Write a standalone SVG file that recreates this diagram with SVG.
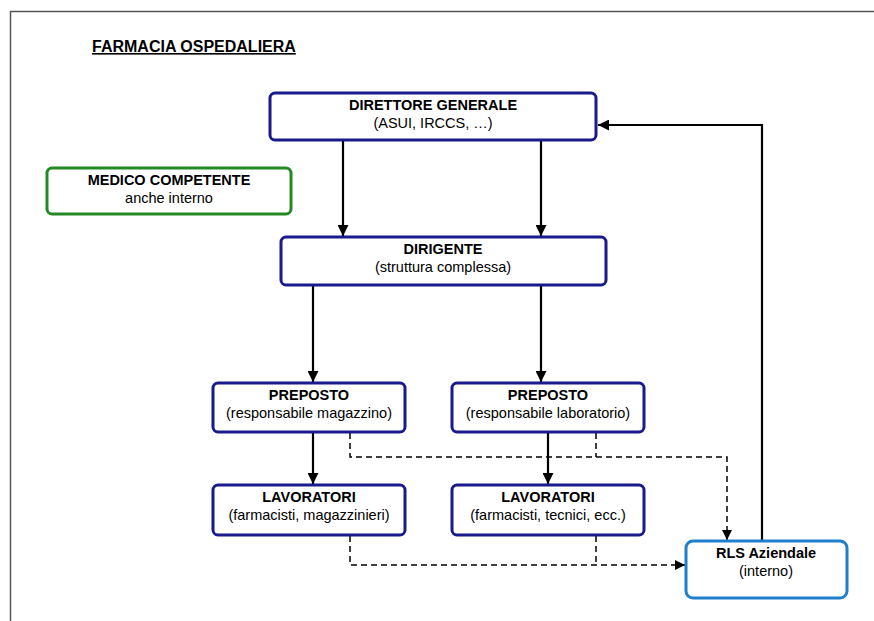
<svg xmlns="http://www.w3.org/2000/svg" width="874" height="621" viewBox="0 0 874 621">
<defs>
<style>
.t{font-family:"Liberation Sans",Arial,sans-serif;font-size:14.5px;fill:#000;text-anchor:middle}
.b{font-weight:bold}
.n{fill:#fff;stroke:#1a1a8c;stroke-width:3}
.g{fill:#fff;stroke:#238a23;stroke-width:3}
.r{fill:#fff;stroke:#1f7fcc;stroke-width:3}
.s{fill:none;stroke:#000;stroke-width:2.2}
.d{fill:none;stroke:#000;stroke-width:1.5;stroke-dasharray:6,4}
</style>
<marker id="a" viewBox="0 0 10 10" refX="10" refY="5" markerWidth="5" markerHeight="5" orient="auto" markerUnits="strokeWidth"><path d="M0,0 L10,5 L0,10 z" fill="#000"/></marker>
<marker id="ad" viewBox="0 0 10 10" refX="10" refY="5" markerWidth="7" markerHeight="7" orient="auto" markerUnits="strokeWidth"><path d="M0,0 L10,5 L0,10 z" fill="#000"/></marker>
</defs>
<rect width="874" height="621" fill="#fff"/>
<path d="M10.5,621 V11.5 H874" fill="none" stroke="#555" stroke-width="1.5"/>
<text x="92" y="52" class="t b" style="text-anchor:start;font-size:16px;text-decoration:underline">FARMACIA OSPEDALIERA</text>
<g id="connectors">
<line class="s" x1="343" y1="141" x2="343" y2="236" marker-end="url(#a)"/>
<line class="s" x1="541" y1="141" x2="541" y2="236" marker-end="url(#a)"/>
<line class="s" x1="313" y1="286" x2="313" y2="382" marker-end="url(#a)"/>
<line class="s" x1="541" y1="286" x2="541" y2="382" marker-end="url(#a)"/>
<line class="s" x1="313" y1="433" x2="313" y2="484" marker-end="url(#a)"/>
<line class="s" x1="548" y1="433" x2="548" y2="484" marker-end="url(#a)"/>
<path class="d" d="M350,433 V457 H727 V540" marker-end="url(#ad)"/>
<path class="d" d="M596,433 V457"/>
<path class="d" d="M350,536 V565 H685" marker-end="url(#ad)"/>
<path class="d" d="M596,536 V565"/>
<path class="s" d="M762,540 V125 H598" marker-end="url(#a)"/>
</g>
<g id="direttore">
<rect class="n" x="270" y="93" width="326" height="47" rx="5"/>
<text class="t b" x="433" y="110">DIRETTORE GENERALE</text>
<text class="t" x="433" y="128">(ASUI, IRCCS, …)</text>
</g>
<g id="medico">
<rect class="g" x="47" y="168" width="244" height="46" rx="5"/>
<text class="t b" x="169" y="185">MEDICO COMPETENTE</text>
<text class="t" x="169" y="203">anche interno</text>
</g>
<g id="dirigente">
<rect class="n" x="281" y="237" width="325" height="48" rx="5"/>
<text class="t b" x="443" y="254">DIRIGENTE</text>
<text class="t" x="443" y="272">(struttura complessa)</text>
</g>
<g id="preposto1">
<rect class="n" x="213" y="383" width="192" height="49" rx="5"/>
<text class="t b" x="309" y="400">PREPOSTO</text>
<text class="t" x="309" y="418">(responsabile magazzino)</text>
</g>
<g id="preposto2">
<rect class="n" x="452" y="383" width="192" height="49" rx="5"/>
<text class="t b" x="548" y="400">PREPOSTO</text>
<text class="t" x="548" y="418">(responsabile laboratorio)</text>
</g>
<g id="lavoratori1">
<rect class="n" x="213" y="485" width="192" height="50" rx="5"/>
<text class="t b" x="309" y="502">LAVORATORI</text>
<text class="t" x="309" y="520">(farmacisti, magazzinieri)</text>
</g>
<g id="lavoratori2">
<rect class="n" x="452" y="485" width="192" height="50" rx="5"/>
<text class="t b" x="548" y="502">LAVORATORI</text>
<text class="t" x="548" y="520">(farmacisti, tecnici, ecc.)</text>
</g>
<g id="rls">
<rect class="r" x="686" y="541" width="161" height="57" rx="7"/>
<text class="t b" x="766" y="558">RLS Aziendale</text>
<text class="t" x="766" y="576">(interno)</text>
</g>
</svg>
